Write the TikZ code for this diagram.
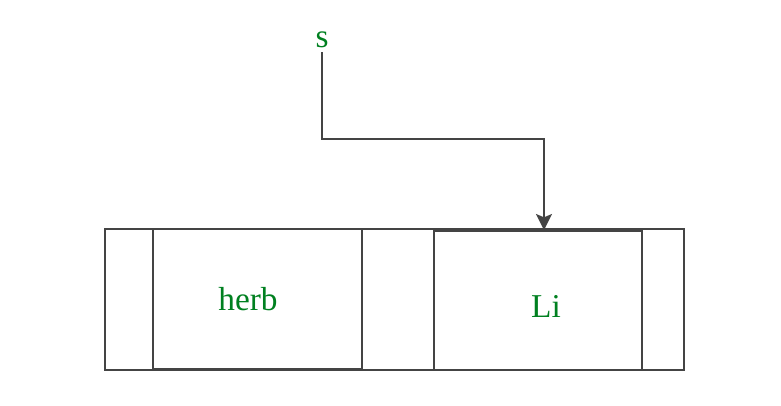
\documentclass[tikz,border=0pt]{standalone}
\usepackage{fontspec}
\setmainfont{Liberation Serif}
\usetikzlibrary{arrows.meta}
\definecolor{linegray}{HTML}{444444}
\definecolor{textgreen}{HTML}{008020}

\begin{document}
\begin{tikzpicture}[x=0.75pt,y=-0.75pt]
\useasboundingbox (0,0) rectangle (781,405);
\tikzset{cell/.style={draw=linegray, line width=1.5, inner sep=0, anchor=north west},
         word/.style={text=textgreen, inner sep=0, font=\fontsize{25}{25}\selectfont}}
\node[cell, minimum width=579*0.75pt, minimum height=141*0.75pt] (list) at (104,228) {};
\node[cell, minimum width=209*0.75pt, minimum height=140*0.75pt] (herb) at (152,228) {};
\node[cell, minimum width=208*0.75pt, minimum height=139*0.75pt] (li) at (433,230) {};
\node[word] (herbtext) at (248,299.5) {herb};
\node[word] (litext) at (546,306.5) {Li};
\node[word] (s) at (322,40) {s};
\coordinate (bend) at (544,139);
\draw[linegray, line width=1.5, -{Stealth[length=12pt, width=12pt, inset=2.5pt]}] (s.south) ++(0,4) |- (bend) -- (li.north -| bend);
\end{tikzpicture}
\end{document}
